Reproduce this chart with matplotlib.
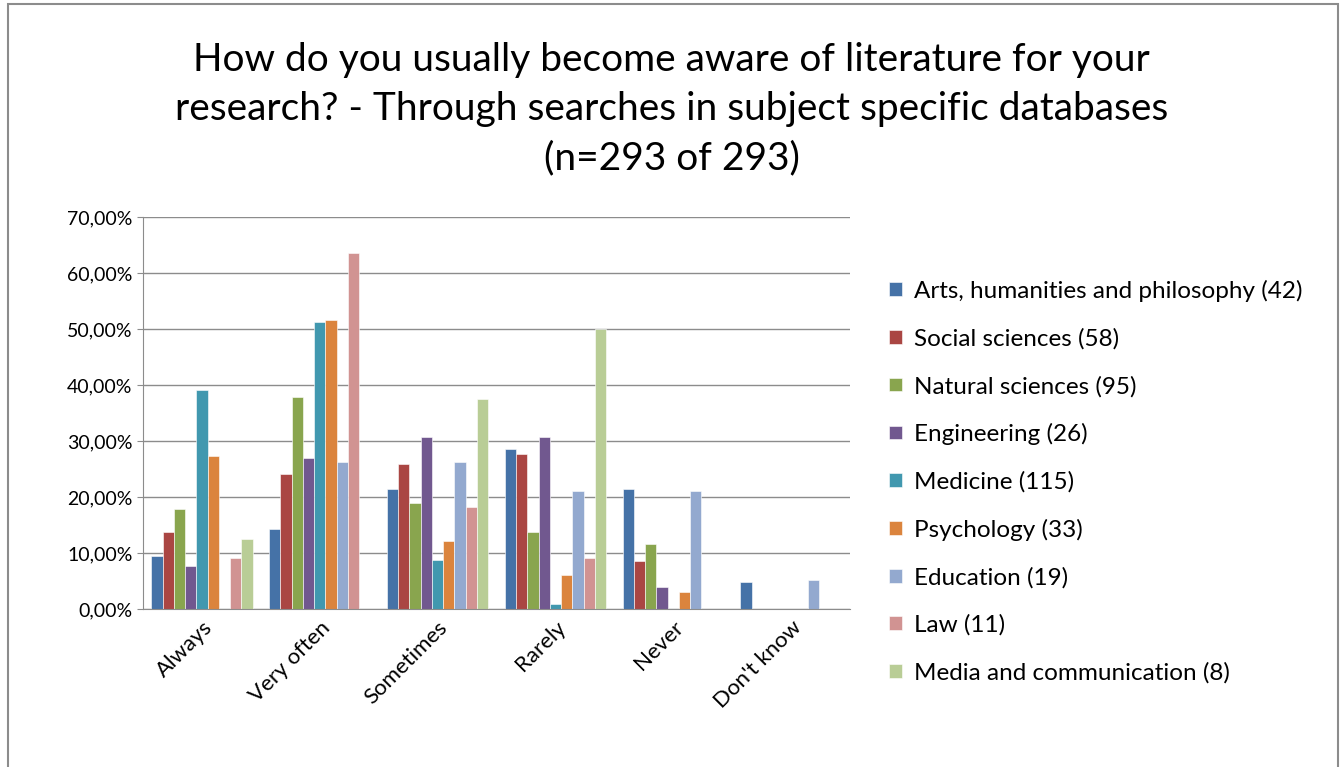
import numpy as np
import matplotlib
matplotlib.use("Agg")
import matplotlib.pyplot as plt
from matplotlib.patches import Rectangle

plt.rcParams["font.family"] = ["Lato", "DejaVu Sans"]

categories = ["Always", "Very often", "Sometimes", "Rarely", "Never", "Don't know"]
series_names = [
    "Arts, humanities and philosophy (42)",
    "Social sciences (58)",
    "Natural sciences (95)",
    "Engineering (26)",
    "Medicine (115)",
    "Psychology (33)",
    "Education (19)",
    "Law (11)",
    "Media and communication (8)",
]
arts = [9.52, 14.29, 21.43, 28.57, 21.43, 4.76]
social = [13.79, 24.14, 25.86, 27.59, 8.62, 0]
natural = [17.89, 37.89, 18.95, 13.68, 11.58, 0]
engineering = [7.69, 26.92, 30.77, 30.77, 3.85, 0]
medicine = [39.13, 51.30, 8.70, 0.87, 0, 0]
psychology = [27.27, 51.52, 12.12, 6.06, 3.03, 0]
education = [0, 26.32, 26.32, 21.05, 21.05, 5.26]
law = [9.09, 63.64, 18.18, 9.09, 0, 0]
media = [12.5, 0, 37.5, 50.0, 0, 0]
series = [arts, social, natural, engineering, medicine, psychology, education, law, media]
colors = ["#4572A7", "#AA4643", "#89A54E", "#71588F", "#4198AF",
          "#DB843D", "#93A9CF", "#D19392", "#B9CD96"]

fig = plt.figure(figsize=(13.43, 7.67), dpi=100)
fig.patches.append(Rectangle((0.006, -0.01), 0.99, 1.005, transform=fig.transFigure,
                             fill=False, edgecolor="#8c8c8c", lw=1.5))
ax = fig.add_axes([143 / 1343, 1 - 609 / 767, (850 - 143) / 1343, (609 - 217) / 767])

n = len(series)
bw = 0.86 / n
x = np.arange(len(categories))
for i, (vals, name, c) in enumerate(zip(series, series_names, colors)):
    ax.bar(x - 0.43 + bw * (i + 0.5), vals, bw, color=c, label=name,
           edgecolor="white", linewidth=0.4)

ax.set_xlim(-0.5, len(categories) - 0.5)
ax.set_ylim(0, 70)
ax.set_yticks(np.arange(0, 71, 10))
ax.set_yticklabels([f"{v},00%" for v in range(0, 71, 10)], fontsize=14)
ax.set_xticks(x)
ax.set_xticklabels(categories, rotation=45, ha="right", rotation_mode="anchor", fontsize=16)
ax.yaxis.grid(True, color="#8c8c8c", lw=1)
ax.set_axisbelow(True)
for s in ["top", "right"]:
    ax.spines[s].set_visible(False)
for s in ["left", "bottom"]:
    ax.spines[s].set_color("#8c8c8c")
ax.tick_params(axis="x", length=0, pad=6)
ax.tick_params(axis="y", length=4, color="#8c8c8c")

fig.text(0.5, 0.945, "How do you usually become aware of literature for your\n"
         "research? - Through searches in subject specific databases\n(n=293 of 293)",
         ha="center", va="top", fontsize=28, linespacing=1.45)

fig.legend(loc="center left", bbox_to_anchor=(0.646, 0.372), frameon=False,
           fontsize=17.5, handlelength=0.5, handleheight=0.5, labelspacing=1.07,
           handletextpad=0.5)

fig.savefig("out.png", dpi=100)
